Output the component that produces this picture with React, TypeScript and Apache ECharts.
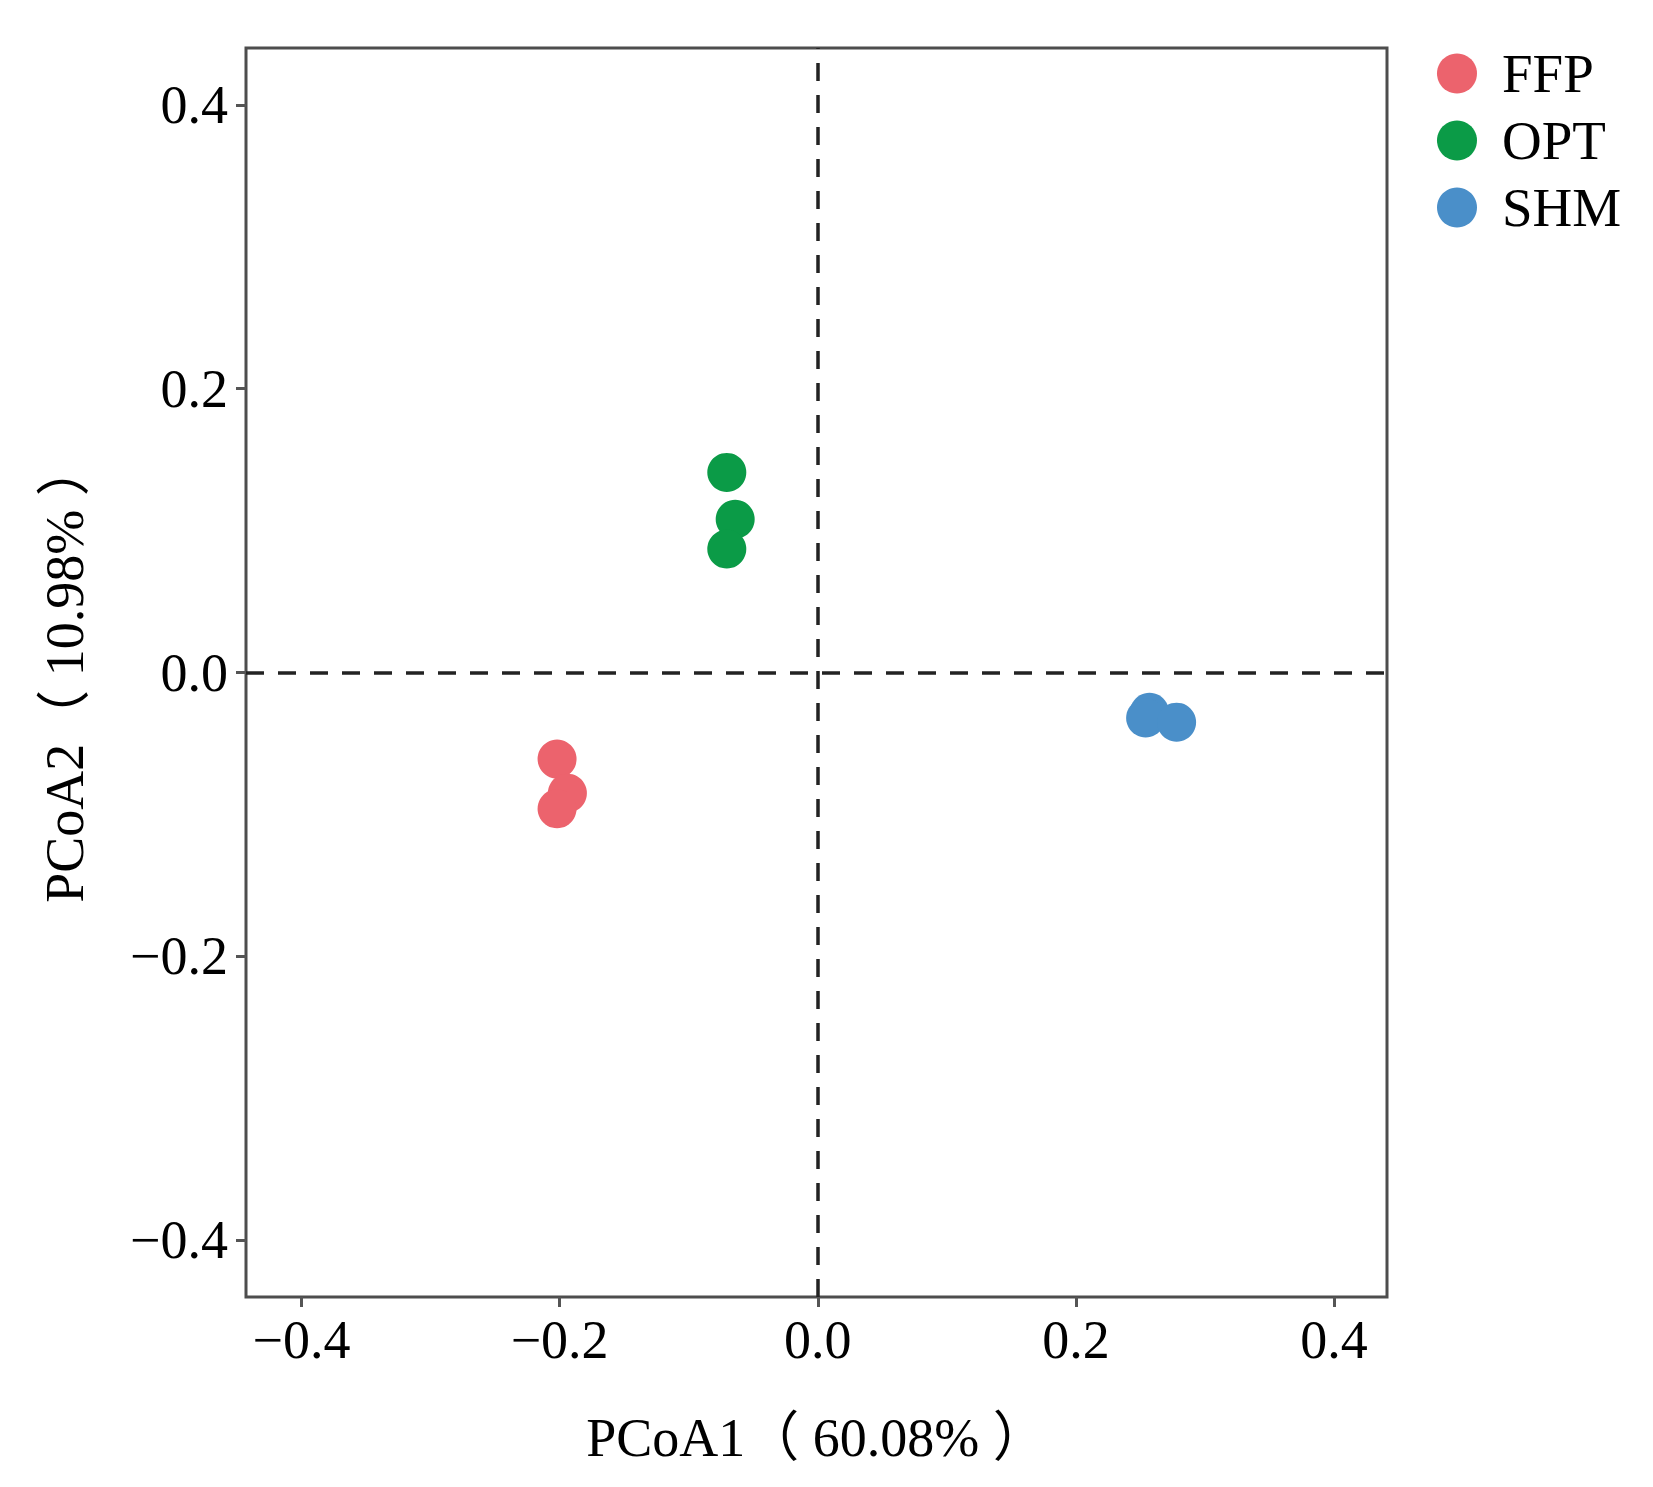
import React, { useEffect, useRef } from "react";
import * as echarts from "echarts";

const groups = ["FFP", "OPT", "SHM"];
const colors = ["#EC636D", "#0B9B47", "#4A8FC9"];
const ffpX = [-0.202, -0.194, -0.202];
const ffpY = [-0.061, -0.085, -0.096];
const optX = [-0.0705, -0.064, -0.0705];
const optY = [0.141, 0.108, 0.087];
const shmX = [0.257, 0.254, 0.278];
const shmY = [-0.028, -0.032, -0.035];
const xTicks = [-0.4, -0.2, 0, 0.2, 0.4];
const yTicks = [-0.4, -0.2, 0, 0.2, 0.4];
const xName = "PCoA1（ 60.08% ）";
const yName = "PCoA2（ 10.98% ）";

const FONT = "'Liberation Serif', 'Times New Roman', 'Noto Sans CJK SC', serif";

const fmt = (v: number) => (v < -1e-9 ? "\u2212" : "") + Math.abs(v).toFixed(1);

export default function App() {
  const ref = useRef<HTMLDivElement>(null);
  useEffect(() => {
    document.body.style.margin = "0";
    const chart = echarts.init(ref.current!, null, { renderer: "svg" });
    const xs = [ffpX, optX, shmX];
    const ys = [ffpY, optY, shmY];
    const series: any[] = groups.map((g, i) => ({
      name: g,
      type: "scatter",
      symbol: "circle",
      symbolSize: 39,
      itemStyle: { color: colors[i], opacity: 1 },
      emphasis: { disabled: true },
      data: xs[i].map((x, j) => [x, ys[i][j]]),
      z: 3,
    }));
    series.push({
      name: "zero",
      type: "scatter",
      data: [],
      silent: true,
      markLine: {
        silent: true,
        symbol: ["none", "none"],
        label: { show: false },
        lineStyle: { type: [18, 14], color: "#222", width: 3.5 },
        emphasis: { disabled: true },
        data: [{ xAxis: 0 }, { yAxis: 0 }],
      },
      z: 2,
    });
    const axisCommon = (ticks: number[], margin: number) => ({
      type: "value",
      splitLine: { show: false },
      axisLine: { show: false, onZero: false },
      axisTick: {
        show: true,
        length: 10,
        inside: false,
        lineStyle: { color: "#555", width: 3 },
        customValues: ticks,
      },
      axisLabel: {
        customValues: ticks,
        formatter: fmt,
        fontSize: 54,
        color: "#000",
        fontFamily: FONT,
        margin,
      },
      nameLocation: "middle",
      nameTextStyle: { fontSize: 54, color: "#000", fontFamily: FONT },
    });
    chart.setOption({
      animation: false,
      backgroundColor: "#fff",
      grid: {
        left: 246,
        top: 48,
        width: 1141,
        height: 1249,
        show: true,
        borderColor: "#4d4d4d",
        borderWidth: 3,
        backgroundColor: "transparent",
        containLabel: false,
      },
      xAxis: {
        ...axisCommon(xTicks, 16),
        min: -0.443,
        max: 0.441,
        name: xName,
        nameGap: 114,
      },
      yAxis: {
        ...axisCommon(yTicks, 18),
        min: -0.44,
        max: 0.44,
        name: yName,
        nameGap: 154,
      },
      legend: {
        data: groups,
        orient: "vertical",
        left: 1432,
        top: 41,
        icon: "circle",
        itemWidth: 40,
        itemHeight: 40,
        itemGap: 12,
        selectedMode: false,
        textStyle: {
          fontSize: 55,
          color: "#000",
          fontFamily: FONT,
          lineHeight: 40,
          padding: [0, 0, 0, 20],
        },
      },
      series,
    });
    return () => chart.dispose();
  }, []);
  return <div ref={ref} style={{ width: 1653, height: 1487 }} />;
}
